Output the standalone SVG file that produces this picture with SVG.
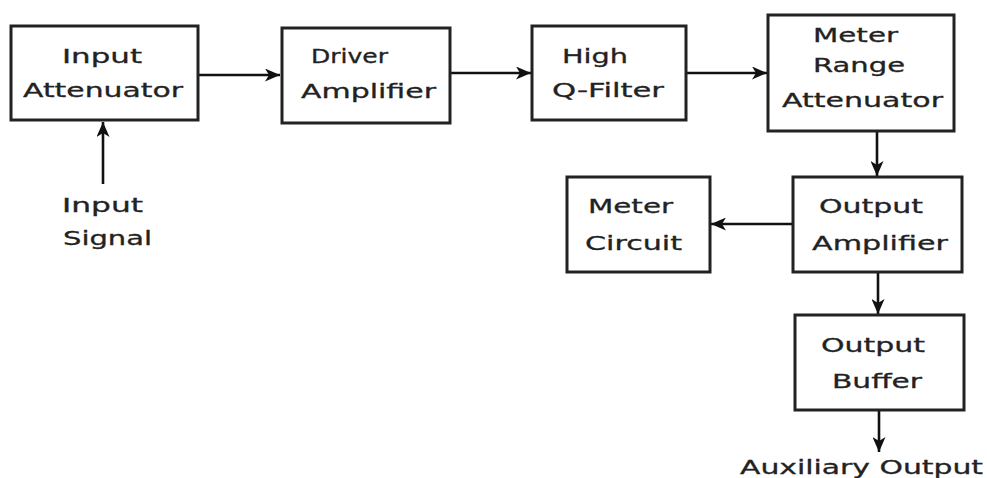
<svg xmlns="http://www.w3.org/2000/svg" width="987" height="478" viewBox="0 0 987 478">
<style>
.box{fill:#fff;stroke:#222;stroke-width:3}
.t{font-family:"DejaVu Sans","Liberation Sans",sans-serif;font-size:19.5px;fill:#222;stroke:#222;stroke-width:0.3}
.c{stroke:#111;stroke-width:2.6;fill:none}
</style>
<defs>
<marker id="ah" viewBox="0 0 15 13" refX="15" refY="6.5" markerWidth="15" markerHeight="13" markerUnits="userSpaceOnUse" orient="auto">
<path d="M0,0 L15,6.5 L0,13 L4,6.5 Z" fill="#111"/>
</marker>
</defs>
<rect width="987" height="478" fill="#fff"/>
<g id="connectors">
<line class="c" x1="198" y1="75" x2="280" y2="75" marker-end="url(#ah)"/>
<line class="c" x1="450" y1="73" x2="531" y2="73" marker-end="url(#ah)"/>
<line class="c" x1="686" y1="73" x2="767" y2="73" marker-end="url(#ah)"/>
<line class="c" x1="103" y1="184" x2="103" y2="122" marker-end="url(#ah)"/>
<line class="c" x1="877" y1="131" x2="877" y2="176" marker-end="url(#ah)"/>
<line class="c" x1="793" y1="224" x2="711" y2="224" marker-end="url(#ah)"/>
<line class="c" x1="878" y1="272" x2="878" y2="314" marker-end="url(#ah)"/>
<line class="c" x1="879" y1="410" x2="879" y2="452" marker-end="url(#ah)"/>
</g>
<g id="input-attenuator">
<rect class="box" x="11" y="26" width="187" height="94"/>
<text class="t" x="62" y="63" textLength="80" lengthAdjust="spacingAndGlyphs">Input</text>
<text class="t" x="23" y="97" textLength="160" lengthAdjust="spacingAndGlyphs">Attenuator</text>
</g>
<g id="driver-amplifier">
<rect class="box" x="282" y="28" width="168" height="95"/>
<text class="t" x="311" y="63" textLength="77" lengthAdjust="spacingAndGlyphs">Driver</text>
<text class="t" x="301" y="98" textLength="135" lengthAdjust="spacingAndGlyphs">Amplifier</text>
</g>
<g id="high-q-filter">
<rect class="box" x="532" y="26" width="154" height="94"/>
<text class="t" x="562" y="63" textLength="66" lengthAdjust="spacingAndGlyphs">High</text>
<text class="t" x="552" y="97" textLength="112" lengthAdjust="spacingAndGlyphs">Q-Filter</text>
</g>
<g id="meter-range-attenuator">
<rect class="box" x="768" y="15" width="186" height="116"/>
<text class="t" x="813" y="42" textLength="85" lengthAdjust="spacingAndGlyphs">Meter</text>
<text class="t" x="813" y="72" textLength="92" lengthAdjust="spacingAndGlyphs">Range</text>
<text class="t" x="782" y="107" textLength="161" lengthAdjust="spacingAndGlyphs">Attenuator</text>
</g>
<g id="meter-circuit">
<rect class="box" x="567" y="177" width="143" height="95"/>
<text class="t" x="588" y="213" textLength="85" lengthAdjust="spacingAndGlyphs">Meter</text>
<text class="t" x="585" y="250" textLength="97" lengthAdjust="spacingAndGlyphs">Circuit</text>
</g>
<g id="output-amplifier">
<rect class="box" x="793" y="177" width="169" height="95"/>
<text class="t" x="819" y="213" textLength="104" lengthAdjust="spacingAndGlyphs">Output</text>
<text class="t" x="812" y="250" textLength="136" lengthAdjust="spacingAndGlyphs">Amplifier</text>
</g>
<g id="output-buffer">
<rect class="box" x="795" y="315" width="169" height="95"/>
<text class="t" x="821" y="352" textLength="104" lengthAdjust="spacingAndGlyphs">Output</text>
<text class="t" x="832" y="388" textLength="90" lengthAdjust="spacingAndGlyphs">Buffer</text>
</g>
<g id="input-signal">
<text class="t" x="62" y="212" textLength="81" lengthAdjust="spacingAndGlyphs">Input</text>
<text class="t" x="63" y="245" textLength="89" lengthAdjust="spacingAndGlyphs">Signal</text>
</g>
<g id="auxiliary-output">
<text class="t" x="740" y="474" textLength="243" lengthAdjust="spacingAndGlyphs">Auxiliary Output</text>
</g>
</svg>
